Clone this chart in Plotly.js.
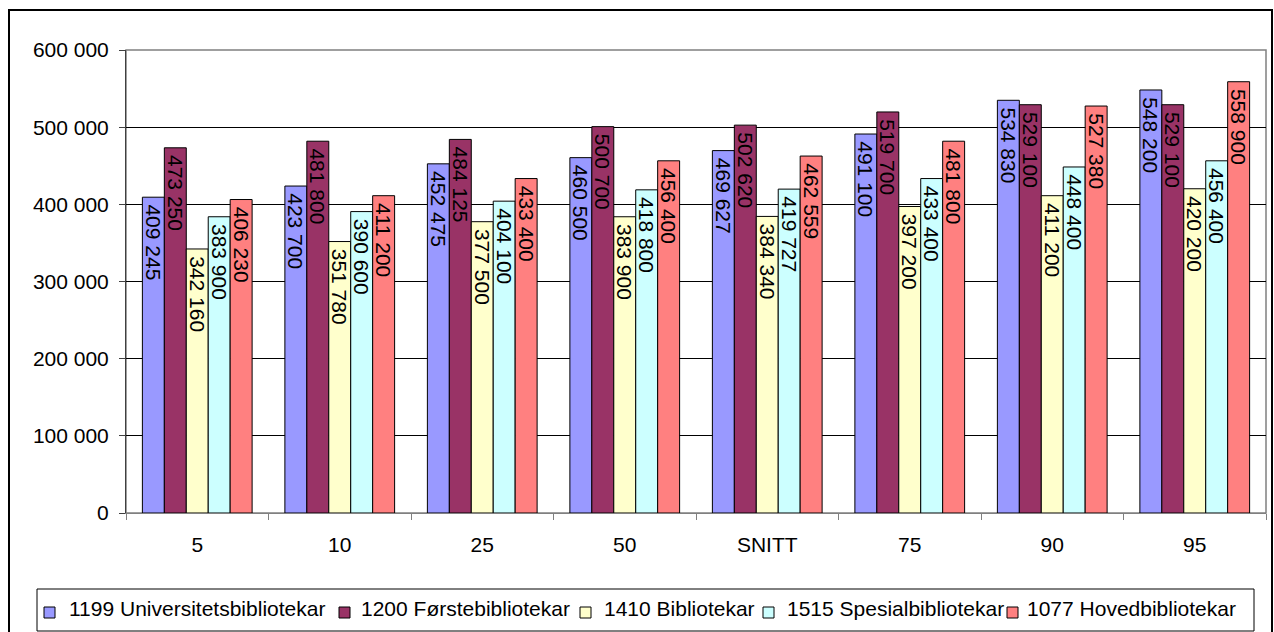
<!DOCTYPE html>
<html>
<head>
<meta charset="utf-8">
<script src="https://cdn.plot.ly/plotly-3.0.1.min.js"></script>
<style>html,body{margin:0;padding:0;background:#fff;}#chart{width:1274px;height:632px;}</style>
</head>
<body>
<div id="chart"></div>
<script>
const categories = ['5', '10', '25', '50', 'SNITT', '75', '90', '95'];
const seriesNames = ['1199 Universitetsbibliotekar', '1200 Førstebibliotekar', '1410 Bibliotekar', '1515 Spesialbibliotekar', '1077 Hovedbibliotekar'];
const universitetsbibliotekar = [409245, 423700, 452475, 460500, 469627, 491100, 534830, 548200];
const forstebibliotekar = [473250, 481800, 484125, 500700, 502620, 519700, 529100, 529100];
const bibliotekar = [342160, 351780, 377500, 383900, 384340, 397200, 411200, 420200];
const spesialbibliotekar = [383900, 390600, 404100, 418800, 419727, 433400, 448400, 456400];
const hovedbibliotekar = [406230, 411200, 433400, 456400, 462559, 481800, 527380, 558900];
const seriesValues = [universitetsbibliotekar, forstebibliotekar, bibliotekar, spesialbibliotekar, hovedbibliotekar];
const colors = ['#9999FF', '#993366', '#FFFFCC', '#CCFFFF', '#FF8080'];

const W = 1274, H = 632;
const M = {l: 126, r: 8, t: 50, b: 119};
const PW = W - M.l - M.r, PH = H - M.t - M.b;
const px = x => (x - M.l) / PW;
const py = y => (H - M.b - y) / PH;
const FONT = 'Liberation Sans, Arial, sans-serif';

const traces = seriesValues.map((vals, i) => ({
  type: 'bar',
  name: seriesNames[i],
  x: categories,
  y: vals,
  marker: {color: colors[i], line: {color: '#000', width: 1}},
  texttemplate: '\u2009%{y:,}',
  textposition: 'inside',
  insidetextanchor: 'end',
  textangle: 90,
  constraintext: 'none',
  insidetextfont: {family: FONT, size: 21, color: '#000'},
  hoverinfo: 'x+y+name',
  showlegend: false
}));

// legend positions (left edge of square, left edge of text) in pixels
const legSquareX = [44, 339, 580, 763, 1007];
const legTextX = [67, 359, 602, 785, 1025];
const shapes = [
  {type: 'rect', xref: 'paper', yref: 'paper', x0: px(9), x1: px(1272), y0: py(10), y1: py(660), line: {color: '#000', width: 2}, fillcolor: 'rgba(0,0,0,0)', layer: 'below'},
  {type: 'rect', xref: 'paper', yref: 'paper', x0: 0, x1: 1, y0: 0, y1: 1, line: {color: '#808080', width: 1.5}, fillcolor: 'rgba(0,0,0,0)', layer: 'below'},
  {type: 'rect', xref: 'paper', yref: 'paper', x0: px(37), x1: px(1254), y0: py(589), y1: py(631), line: {color: '#000', width: 1}, fillcolor: 'rgba(0,0,0,0)'}
];
const annotations = [];
seriesNames.forEach((n, i) => {
  shapes.push({type: 'rect', xref: 'paper', yref: 'paper', x0: px(legSquareX[i]), x1: px(legSquareX[i] + 11), y0: py(618), y1: py(607), line: {color: '#000', width: 1}, fillcolor: colors[i]});
  annotations.push({xref: 'paper', yref: 'paper', x: px(legTextX[i]), y: py(608), xanchor: 'left', yanchor: 'middle', text: n, showarrow: false, font: {family: FONT, size: 21, color: '#000'}});
});

const layout = {
  width: W, height: H,
  margin: M,
  paper_bgcolor: '#fff', plot_bgcolor: '#fff',
  separators: ', ',
  font: {family: FONT, size: 21, color: '#000'},
  barmode: 'group',
  bargap: 0.23,
  bargroupgap: 0,
  showlegend: false,
  xaxis: {
    type: 'category',
    tickson: 'boundaries',
    ticks: 'outside', ticklen: 6, tickcolor: '#808080',
    showline: true, linecolor: '#808080', linewidth: 1,
    showgrid: false,
    ticklabelstandoff: 13,
    tickfont: {family: FONT, size: 21, color: '#000'}
  },
  yaxis: {
    range: [0, 600000],
    dtick: 100000,
    tickformat: ',',
    ticks: 'outside', ticklen: 6, tickcolor: '#404040',
    showline: true, linecolor: '#404040', linewidth: 1,
    showgrid: true, gridcolor: '#000', gridwidth: 1,
    zeroline: false,
    ticklabelstandoff: 6,
    tickfont: {family: FONT, size: 21, color: '#000'}
  },
  shapes: shapes,
  annotations: annotations
};

Plotly.newPlot('chart', traces, layout, {displayModeBar: false, staticPlot: true});
</script>
</body>
</html>
